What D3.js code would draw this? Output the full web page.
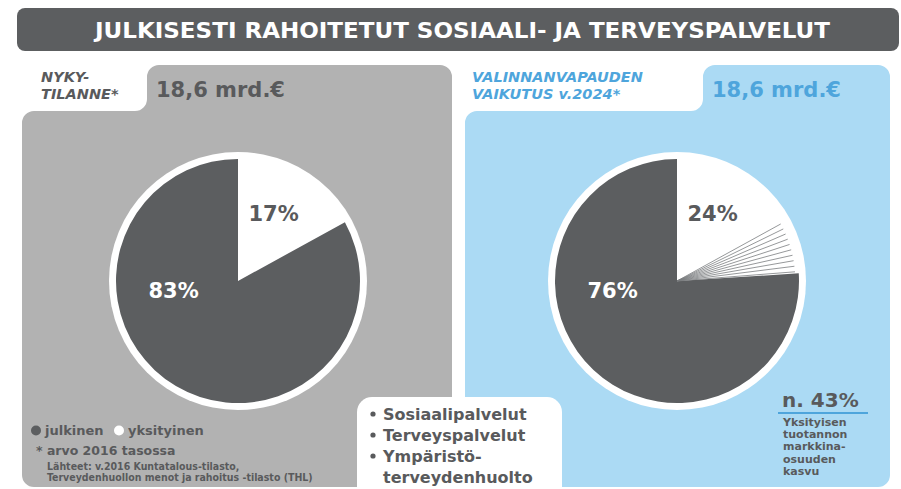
<!DOCTYPE html>
<html>
<head>
<meta charset="utf-8">
<script src="https://cdn.jsdelivr.net/npm/d3@7"></script>
<style>
  body { margin: 0; background: #fff; }
  svg { display: block; font-family: 'DejaVu Sans', Verdana, sans-serif; font-weight: bold; }
</style>
</head>
<body>
<svg width="901" height="489"></svg>
<script>
// chart data
const title = 'JULKISESTI RAHOITETUT SOSIAALI- JA TERVEYSPALVELUT';
const panelLabels = [['NYKY-', 'TILANNE*'], ['VALINNANVAPAUDEN', 'VAIKUTUS v.2024*']];
const totals = ['18,6 mrd.€', '18,6 mrd.€'];
const publicShare = [83, 76];   // julkinen
const privateShare = [17, 24];  // yksityinen
const growthLineCount = 10;
const legendItems = ['julkinen', 'yksityinen'];
const footnotes = ['* arvo 2016 tasossa'];
const sources = ['Lähteet: v.2016 Kuntatalous-tilasto,', 'Terveydenhuollon menot ja rahoitus -tilasto (THL)'];
const services = ['Sosiaalipalvelut', 'Terveyspalvelut', 'Ympäristö-', 'terveydenhuolto'];
const marketGrowth = 'n. 43%';
const marketGrowthText = ['Yksityisen', 'tuotannon', 'markkina-', 'osuuden', 'kasvu'];

const colors = {
  dark: '#5c5e60',
  text: '#595a5c',
  gray: '#b2b2b2',
  blue: '#abdaf4',
  blueText: '#4ea5dc',
  white: '#ffffff',
};

const svg = d3.select('svg');

// title bar
svg.append('rect')
  .attr('x', 17).attr('y', 8).attr('width', 882).attr('height', 43)
  .attr('rx', 8)
  .attr('fill', colors.dark);
svg.append('text')
  .attr('x', 95).attr('y', 38)
  .attr('textLength', 735).attr('lengthAdjust', 'spacingAndGlyphs')
  .style('font-family', "'DejaVu Sans Condensed', 'DejaVu Sans', sans-serif")
  .style('font-size', '22px')
  .attr('fill', colors.white)
  .text(title);

// panel outline with a tab on top
function panelPath(x0, x1, tabX, yTop, yBody, yBottom, r) {
  const p = d3.path();
  p.moveTo(x0, yBody + r);
  p.arcTo(x0, yBody, x0 + r, yBody, r);
  p.lineTo(tabX - r, yBody);
  p.arcTo(tabX, yBody, tabX, yBody - r, r);
  p.lineTo(tabX, yTop + r);
  p.arcTo(tabX, yTop, tabX + r, yTop, r);
  p.lineTo(x1 - r, yTop);
  p.arcTo(x1, yTop, x1, yTop + r, r);
  p.lineTo(x1, yBottom - r);
  p.arcTo(x1, yBottom, x1 - r, yBottom, r);
  p.lineTo(x0 + r, yBottom);
  p.arcTo(x0, yBottom, x0, yBottom - r, r);
  p.closePath();
  return p.toString();
}

const panels = [
  { x0: 22, x1: 452, tabX: 147, cx: 238, fill: colors.gray, labelFill: colors.text, totalFill: colors.text },
  { x0: 465, x1: 890, tabX: 703, cx: 677, fill: colors.blue, labelFill: colors.blueText, totalFill: colors.blueText },
];

const cy = 281;
const radius = 122;
const ring = 7;

const pie = d3.pie().value((d) => d).sort(null);
const arc = d3.arc().innerRadius(0).outerRadius(radius);

panels.forEach((pnl, i) => {
  const g = svg.append('g');
  g.append('path')
    .attr('d', panelPath(pnl.x0, pnl.x1, pnl.tabX, 65, 111, 487, 12))
    .attr('fill', pnl.fill);

  g.selectAll('text.label')
    .data(panelLabels[i])
    .join('text')
    .attr('class', 'label')
    .attr('x', pnl.x0 + (i === 0 ? 19 : 7))
    .attr('y', (d, j) => 82 + j * 17)
    .style('font-size', '14.5px')
    .style('font-style', 'italic')
    .attr('fill', pnl.labelFill)
    .text((d) => d);

  g.append('text')
    .attr('x', pnl.tabX + 9).attr('y', 97)
    .style('font-size', '21px')
    .attr('fill', pnl.totalFill)
    .text(totals[i]);

  // pie
  const pg = g.append('g').attr('transform', `translate(${pnl.cx}, ${cy})`);
  pg.append('circle').attr('r', radius + ring).attr('fill', colors.white);
  const slices = pie([privateShare[i], publicShare[i]]);
  pg.selectAll('path.slice')
    .data(slices)
    .join('path')
    .attr('class', 'slice')
    .attr('fill', (d, j) => (j === 0 ? colors.white : colors.dark))
    .attr('d', arc);

  // growth of private share: fan of lines between old and new share
  if (i === 1) {
    const oldEnd = pie([privateShare[0], publicShare[0]])[0].endAngle;
    const newEnd = slices[0].endAngle;
    const angle = d3.scaleLinear().domain([0, growthLineCount - 1]).range([oldEnd, newEnd - 0.015]);
    pg.selectAll('line.growth')
      .data(d3.range(growthLineCount))
      .join('line')
      .attr('class', 'growth')
      .attr('x1', 0).attr('y1', 0)
      .attr('x2', (d) => Math.sin(angle(d)) * radius * 0.97)
      .attr('y2', (d) => -Math.cos(angle(d)) * radius * 0.97)
      .attr('stroke', '#7b7d80')
      .attr('stroke-width', 0.8);
  }

  // percent labels
  const labelPos = [
    { a: 27.5, r: 77, fill: colors.text, v: privateShare[i] },
    { a: 262, r: 65, fill: colors.white, v: publicShare[i] },
  ];
  pg.selectAll('text.pct')
    .data(labelPos)
    .join('text')
    .attr('class', 'pct')
    .attr('x', (d) => Math.sin(d.a * Math.PI / 180) * d.r)
    .attr('y', (d) => -Math.cos(d.a * Math.PI / 180) * d.r + 8)
    .attr('text-anchor', 'middle')
    .style('font-size', '21px')
    .attr('fill', (d) => d.fill)
    .text((d) => `${d.v}%`);
});

// legend bottom left
const legend = svg.append('g').attr('transform', 'translate(36, 435)');
const legendX = [0, 83];
legend.selectAll('circle')
  .data(legendItems)
  .join('circle')
  .attr('cx', (d, i) => legendX[i])
  .attr('cy', -4.5)
  .attr('r', 5)
  .attr('fill', (d, i) => (i === 0 ? colors.dark : colors.white));
legend.selectAll('text')
  .data(legendItems)
  .join('text')
  .attr('x', (d, i) => legendX[i] + 9)
  .attr('y', 0)
  .style('font-size', '13px')
  .attr('fill', colors.text)
  .text((d) => d);

svg.selectAll('text.footnote')
  .data(footnotes)
  .join('text')
  .attr('class', 'footnote')
  .attr('x', 36).attr('y', 455)
  .style('font-size', '12.5px')
  .attr('fill', colors.text)
  .text((d) => d);

svg.selectAll('text.source')
  .data(sources)
  .join('text')
  .attr('class', 'source')
  .attr('x', 47)
  .attr('y', (d, i) => 470 + i * 11)
  .style('font-family', "'DejaVu Sans Condensed', 'DejaVu Sans', sans-serif")
  .style('font-size', '10.5px')
  .attr('fill', colors.text)
  .text((d) => d);

// services box
svg.append('rect')
  .attr('x', 357).attr('y', 397).attr('width', 205).attr('height', 110)
  .attr('rx', 15)
  .attr('fill', colors.white);
const serv = svg.append('g');
serv.selectAll('text')
  .data(services)
  .join('text')
  .attr('x', 383)
  .attr('y', (d, i) => 420 + i * 21)
  .style('font-size', '16px')
  .attr('fill', colors.text)
  .text((d) => d);
serv.selectAll('circle')
  .data(services.slice(0, 3))
  .join('circle')
  .attr('cx', 373)
  .attr('cy', (d, i) => 414 + i * 21)
  .attr('r', 2.6)
  .attr('fill', colors.text);

// market share growth note
svg.append('text')
  .attr('x', 782).attr('y', 407)
  .style('font-size', '20px')
  .attr('fill', colors.text)
  .text(marketGrowth);
svg.append('line')
  .attr('x1', 778).attr('x2', 868)
  .attr('y1', 413).attr('y2', 413)
  .attr('stroke', colors.blueText)
  .attr('stroke-width', 2);
svg.selectAll('text.growthNote')
  .data(marketGrowthText)
  .join('text')
  .attr('class', 'growthNote')
  .attr('x', 783)
  .attr('y', (d, i) => 426 + i * 12.2)
  .style('font-size', '11px')
  .attr('fill', colors.text)
  .text((d) => d);
</script>
</body>
</html>
